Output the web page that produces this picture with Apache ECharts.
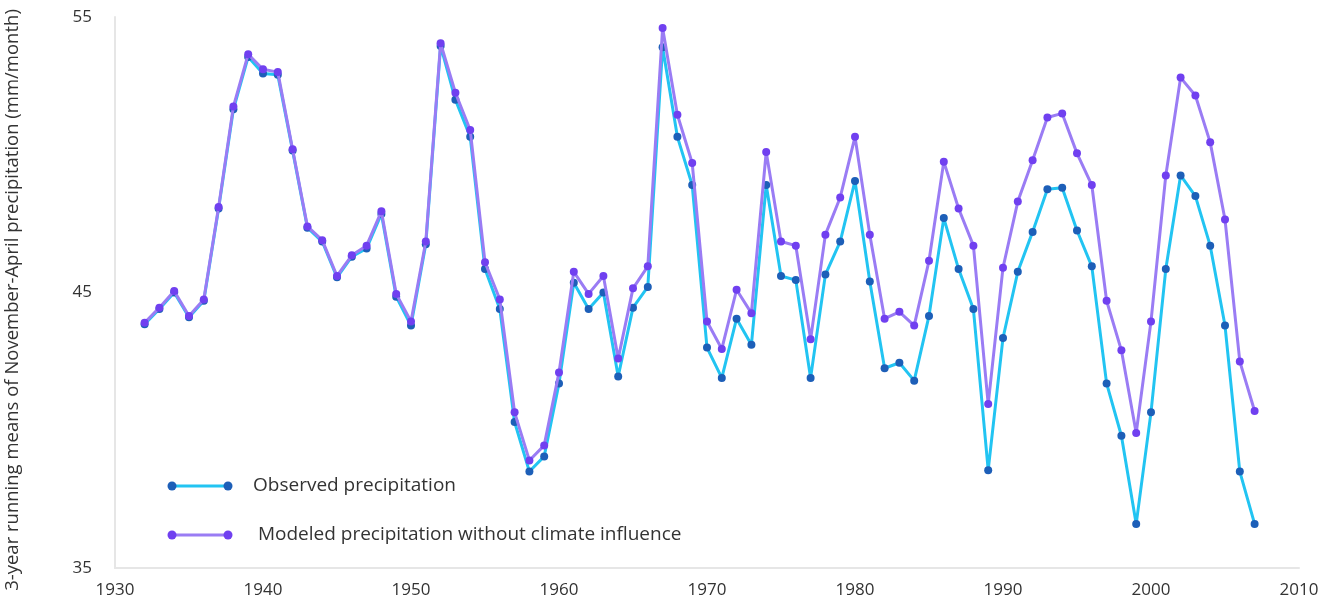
<!DOCTYPE html>
<html>
<head>
<meta charset="utf-8">
<script src="https://cdn.jsdelivr.net/npm/echarts@6/dist/echarts.min.js"></script>
<style>
html,body{margin:0;padding:0;background:#fff;}
#chart{width:1332px;height:603px;}
</style>
</head>
<body>
<div id="chart"></div>
<script>
var years = [1932,1933,1934,1935,1936,1937,1938,1939,1940,1941,1942,1943,1944,1945,1946,1947,1948,1949,1950,1951,
1952,1953,1954,1955,1956,1957,1958,1959,1960,1961,1962,1963,1964,1965,1966,1967,1968,1969,1970,1971,
1972,1973,1974,1975,1976,1977,1978,1979,1980,1981,1982,1983,1984,1985,1986,1987,1988,1989,1990,1991,
1992,1993,1994,1995,1996,1997,1998,1999,2000,2001,2002,2003,2004,2005,2006,2007];

var observed = [43.85,44.4,45.0,44.1,44.7,48.05,51.65,53.55,52.95,52.9,50.15,47.35,46.85,45.55,46.3,46.6,47.85,44.85,43.8,46.75,
53.95,52.0,50.65,45.85,44.4,40.3,38.5,39.05,41.7,45.35,44.4,45.0,41.95,44.45,45.2,53.9,50.65,48.9,43.0,41.9,
44.05,43.1,48.9,45.6,45.45,41.9,45.65,46.85,49.05,45.4,42.25,42.45,41.8,44.15,47.7,45.85,44.4,38.55,43.35,45.75,
47.2,48.75,48.8,47.25,45.95,41.7,39.8,36.6,40.65,45.85,49.25,48.5,46.7,43.8,38.5,36.6];

var modeled = [43.9,44.45,45.05,44.15,44.75,48.1,51.75,53.65,53.1,53.0,50.2,47.4,46.9,45.6,46.35,46.7,47.95,44.95,43.95,46.85,
54.05,52.25,50.9,46.1,44.75,40.65,38.9,39.45,42.1,45.75,44.95,45.6,42.6,45.15,45.95,54.6,51.45,49.7,43.95,42.95,
45.1,44.25,50.1,46.85,46.7,43.3,47.1,48.45,50.65,47.1,44.05,44.3,43.8,46.15,49.75,48.05,46.7,40.95,45.9,48.3,
49.8,51.35,51.5,50.05,48.9,44.7,42.9,39.9,43.95,49.25,52.8,52.15,50.45,47.65,42.5,40.7];

var xTicks = [1930,1940,1950,1960,1970,1980,1990,2000,2010];
var yTicks = [35,45,55];
var seriesNames = ['Observed precipitation', ' Modeled precipitation without climate influence'];
var yTitle = '3-year running means of November-April precipitation (mm/month)';

var FONT = '"Open Sans"';
var TEXT = '#333333';
var OBS_LINE = '#22c4f2', OBS_DOT = '#1d5fb8';
var MOD_LINE = '#9a7cf4', MOD_DOT = '#7040f0';

function pairs(vals){ return years.map(function(y,i){ return [y, vals[i]]; }); }

var chart = echarts.init(document.getElementById('chart'), null, {renderer:'canvas'});

function legendRow(y, lineColor, dotColor, label, textX){
  return {
    type:'group',
    children:[
      {type:'line', shape:{x1:172,y1:y,x2:228,y2:y}, style:{stroke:lineColor, lineWidth:3}},
      {type:'circle', shape:{cx:172,cy:y,r:4.5}, style:{fill:dotColor}},
      {type:'circle', shape:{cx:228,cy:y,r:4.5}, style:{fill:dotColor}},
      {type:'text', x:textX, y:y, style:{text:label, fill:TEXT, font:'19px ' + FONT, verticalAlign:'middle', align:'left'}}
    ]
  };
}

chart.setOption({
  animation:false,
  backgroundColor:'#ffffff',
  textStyle:{fontFamily:FONT},
  grid:{left:115, right:33, top:17, bottom:35, containLabel:false, outerBoundsMode:'none'},
  xAxis:{
    type:'value', min:xTicks[0], max:xTicks[xTicks.length-1], interval:10,
    axisLine:{show:true, lineStyle:{color:'#e6e6e6', width:2}},
    axisTick:{show:false},
    splitLine:{show:false},
    axisLabel:{color:TEXT, fontSize:17, fontFamily:FONT, margin:14,
      formatter:function(v){ return String(v); }}
  },
  yAxis:{
    type:'value', min:yTicks[0], max:yTicks[yTicks.length-1], interval:10,
    axisLine:{show:true, lineStyle:{color:'#e6e6e6', width:2}},
    axisTick:{show:false},
    splitLine:{show:false},
    axisLabel:{color:TEXT, fontSize:17, fontFamily:FONT, margin:23}
  },
  series:[
    {name:seriesNames[0], type:'line', data:pairs(observed), symbol:'circle', symbolSize:8,
     lineStyle:{color:OBS_LINE, width:3}, itemStyle:{color:OBS_DOT}, z:2},
    {name:seriesNames[1], type:'line', data:pairs(modeled), symbol:'circle', symbolSize:8,
     lineStyle:{color:MOD_LINE, width:3}, itemStyle:{color:MOD_DOT}, z:3}
  ],
  graphic:[
    legendRow(486, OBS_LINE, OBS_DOT, seriesNames[0], 253),
    legendRow(535, MOD_LINE, MOD_DOT, seriesNames[1], 253),
    {type:'text', x:13, y:300, rotation:Math.PI/2,
     style:{text:yTitle, fill:TEXT, font:'18.5px ' + FONT, align:'center', verticalAlign:'middle'}}
  ]
});
</script>
</body>
</html>
